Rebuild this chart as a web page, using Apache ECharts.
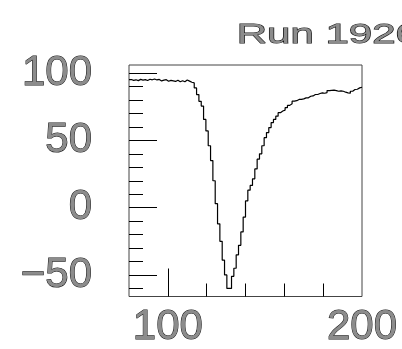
<!DOCTYPE html>
<html>
<head>
<meta charset="utf-8">
<script src="https://cdn.jsdelivr.net/npm/echarts@6/dist/echarts.min.js"></script>
<style>
  html, body { margin: 0; padding: 0; background: #fff; }
  #chart { width: 402px; height: 349px; }
</style>
</head>
<body>
<div id="chart"></div>
<script>
// histogram: 100 bins from 80 to 200
const binStart = 80;
const binWidth = 1.2;
const binCounts = [
  95.2, 94.6, 95.0, 94.4, 95.3, 94.8, 95.1, 94.5, 95.4, 95.0,
  95.6, 94.9, 95.3, 94.2, 94.8, 95.1, 93.9, 94.6, 94.2, 93.8,
  94.7, 93.6, 94.3, 93.5, 94.8, 94.0, 93.2, 92.7, 89, 84,
  79, 75.5, 65.6, 57, 46, 35, 20, 3, -12, -25,
  -39, -50, -60, -60, -51, -45, -35, -28, -18, -7,
  5, 13, 16.5, 21.4, 28.8, 36, 40, 46, 52, 55.8,
  59.5, 63.2, 65.6, 68, 70.6, 71.8, 72.5, 74.3, 76, 77.2,
  79.1, 79.5, 80.4, 80.4, 80.8, 81.6, 81.6, 82.8, 83, 84.1,
  84.1, 84.8, 85.3, 85, 85.5, 87, 87.2, 87.3, 87, 86.5,
  86.8, 86.5, 85.8, 85.3, 85, 86.5, 87.8, 88, 89, 89.5
];
const xLabels = [100, 200];
const xMajorTicks = [100];
const xMinorTicks = [120, 140, 160, 180];
const yMajorTicks = [-50, 0, 50, 100];
const yMinorTicks = [-60, -40, -30, -20, -10, 10, 20, 30, 40, 60, 70, 80, 90];

const xMin = 80, xMax = 200;
const yMin = -66, yMax = 106;

// step points at bin low edges, plus closing point at upper edge
const points = binCounts.map((v, i) => [binStart + i * binWidth, v]);
points.push([xMax, binCounts[binCounts.length - 1]]);

const labelFont = {
  fontFamily: 'Liberation Sans',
  fontSize: 42,
  color: '#8c8c8c',
  textBorderColor: '#111',
  textBorderWidth: 1
};
const fmt = v => (v < 0 ? '\u2212' + (-v) : '' + v);

const myChart = echarts.init(document.getElementById('chart'));
myChart.setOption({
  animation: false,
  grid: {
    left: 129, right: 40, top: 65, bottom: 51,
    show: true, borderColor: '#444', borderWidth: 1,
    backgroundColor: 'transparent'
  },
  graphic: [{
    type: 'text',
    left: 236,
    top: 21,
    scaleX: 1.5,
    style: {
      text: 'Run 1926',
      font: '28px "Liberation Sans"',
      fill: '#8c8c8c',
      stroke: '#111',
      lineWidth: 1
    }
  }],
  xAxis: [
    {
      type: 'value', min: xMin, max: xMax,
      axisLine: { show: false, onZero: false },
      splitLine: { show: false },
      axisTick: { inside: true, length: 13, customValues: xMinorTicks, lineStyle: { color: '#000' } },
      axisLabel: Object.assign({ customValues: xLabels, margin: 10, formatter: fmt }, labelFont)
    },
    {
      type: 'value', min: xMin, max: xMax, position: 'bottom',
      axisLine: { show: false, onZero: false },
      splitLine: { show: false },
      axisTick: { inside: true, length: 28, customValues: xMajorTicks, lineStyle: { color: '#000' } },
      axisLabel: { show: false }
    }
  ],
  yAxis: [
    {
      type: 'value', min: yMin, max: yMax, position: 'left',
      axisLine: { show: false, onZero: false },
      splitLine: { show: false },
      axisTick: { inside: true, length: 28, customValues: yMajorTicks, lineStyle: { color: '#000' } },
      axisLabel: Object.assign({ customValues: yMajorTicks, margin: 37, formatter: fmt }, labelFont)
    },
    {
      type: 'value', min: yMin, max: yMax, position: 'left',
      axisLine: { show: false, onZero: false },
      splitLine: { show: false },
      axisTick: { inside: true, length: 14, customValues: yMinorTicks, lineStyle: { color: '#000' } },
      axisLabel: { show: false }
    }
  ],
  series: [{
    type: 'line',
    step: 'end',
    data: points,
    showSymbol: false,
    lineStyle: { color: '#000', width: 1.2 }
  }]
});
</script>
</body>
</html>
